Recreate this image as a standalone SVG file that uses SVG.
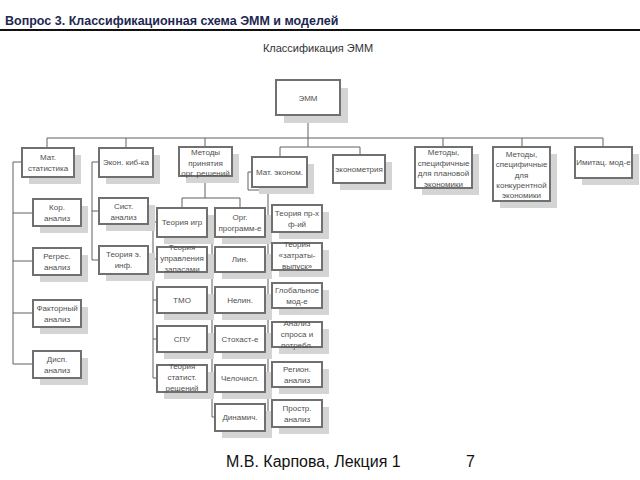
<svg xmlns="http://www.w3.org/2000/svg" width="640" height="480" viewBox="0 0 640 480">
<style>
.sh{fill:#d4d4d4}
.bx{fill:#fff;stroke:#707070;stroke-width:2}
.t{font-family:"Liberation Sans",Arial,sans-serif;font-size:8px;fill:#505050;text-anchor:middle}
.c{fill:none;stroke:#606060;stroke-width:1}
</style>
<rect width="640" height="480" fill="#fff"/>
<text x="5" y="25" font-family="Liberation Sans, Arial, sans-serif" font-size="12.5" font-weight="bold" fill="#1c2850">Вопрос 3. Классификационная схема ЭММ и моделей</text>
<line x1="0" y1="30" x2="640" y2="30" stroke="#111" stroke-width="2"/>
<text x="318" y="52" font-family="Liberation Sans, Arial, sans-serif" font-size="11" fill="#333" text-anchor="middle">Классификация ЭММ</text>

<g id="connectors" class="c">
<path d="M308 115V147M47 138H603M47 138V148M126 138V148M205 138V147M443 138V147M522 138V147M603 138V147"/>
<path d="M280 147H360M280 147V157M360 147V155"/>
<path d="M22 162H13V364M13 213H33M13 261H33M13 313H33M13 364H33"/>
<path d="M99 162H92V260M92 211H99M92 260H99"/>
<path d="M205 176V198M182 208V198H240V208"/>
<path d="M157 222H153V378M153 259H157M153 300H157M153 339H157M153 378H157"/>
<path d="M215 232H212V417M212 259H215M212 300H215M212 339H215M212 378H215M212 417H215"/>
<path d="M252 172H248V190H268V413M268 218H272M268 256H272M268 295H272M268 334H272M268 374H272M268 413H272"/>
</g>

<g id="emm"><rect class="sh" x="284" y="88" width="64" height="35"/><rect class="bx" x="276" y="80" width="64" height="35"/><text class="t" x="308" y="101">ЭММ</text></g>

<g id="matstat"><rect class="sh" x="29" y="155" width="52" height="29"/><rect class="bx" x="22" y="148" width="52" height="29"/><text class="t" x="48" y="160">Мат.</text><text class="t" x="48" y="171">статистика</text></g>
<g id="ekonkib"><rect class="sh" x="106" y="155" width="54" height="29"/><rect class="bx" x="99" y="148" width="54" height="29"/><text class="t" x="126" y="165">Экон. киб-ка</text></g>
<g id="metody"><rect class="sh" x="186" y="154" width="53" height="29"/><rect class="bx" x="179" y="147" width="53" height="29"/><text class="t" x="205.5" y="155">Методы</text><text class="t" x="205.5" y="166">принятия</text><text class="t" x="205.5" y="176">орг. решений</text></g>
<g id="matekon"><rect class="sh" x="259" y="164" width="55" height="30"/><rect class="bx" x="252" y="157" width="55" height="30"/><text class="t" x="279.5" y="175">Мат. эконом.</text></g>
<g id="ekonometr"><rect class="sh" x="340" y="162" width="52" height="28"/><rect class="bx" x="333" y="155" width="52" height="28"/><text class="t" x="359" y="172">эконометрия</text></g>
<g id="plan"><rect class="sh" x="422" y="154" width="57" height="41"/><rect class="bx" x="415" y="147" width="57" height="41"/><text class="t" x="443.5" y="155">Методы,</text><text class="t" x="443.5" y="166">специфичные</text><text class="t" x="443.5" y="176">для плановой</text><text class="t" x="443.5" y="187">экономики</text></g>
<g id="konk"><rect class="sh" x="500" y="154" width="57" height="54"/><rect class="bx" x="493" y="147" width="57" height="54"/><text class="t" x="521.5" y="157">Методы,</text><text class="t" x="521.5" y="167">специфичные</text><text class="t" x="521.5" y="178">для</text><text class="t" x="521.5" y="188">конкурентной</text><text class="t" x="521.5" y="198">экономики</text></g>
<g id="imitac"><rect class="sh" x="582" y="154" width="57" height="31"/><rect class="bx" x="575" y="147" width="57" height="31"/><text class="t" x="603.5" y="165">Имитац. мод-е</text></g>

<g id="kor"><rect class="sh" x="40" y="206" width="48" height="27"/><rect class="bx" x="33" y="199" width="48" height="27"/><text class="t" x="57" y="210">Кор.</text><text class="t" x="57" y="221">анализ</text></g>
<g id="regr"><rect class="sh" x="40" y="255" width="48" height="27"/><rect class="bx" x="33" y="248" width="48" height="27"/><text class="t" x="57" y="259">Регрес.</text><text class="t" x="57" y="270">анализ</text></g>
<g id="fakt"><rect class="sh" x="40" y="307" width="48" height="27"/><rect class="bx" x="33" y="300" width="48" height="27"/><text class="t" x="57" y="311">Факторный</text><text class="t" x="57" y="322">анализ</text></g>
<g id="disp"><rect class="sh" x="40" y="358" width="48" height="27"/><rect class="bx" x="33" y="351" width="48" height="27"/><text class="t" x="57" y="362">Дисп.</text><text class="t" x="57" y="373">анализ</text></g>

<g id="sist"><rect class="sh" x="106" y="205" width="49" height="26"/><rect class="bx" x="99" y="198" width="49" height="26"/><text class="t" x="123.5" y="209">Сист.</text><text class="t" x="123.5" y="220">анализ</text></g>
<g id="teorei"><rect class="sh" x="106" y="253" width="49" height="28"/><rect class="bx" x="99" y="246" width="49" height="28"/><text class="t" x="123.5" y="257">Теория э.</text><text class="t" x="123.5" y="268">инф.</text></g>

<g id="teorigr"><rect class="sh" x="164" y="215" width="50" height="29"/><rect class="bx" x="157" y="208" width="50" height="29"/><text class="t" x="182" y="225">Теория игр</text></g>
<g id="orgprog"><rect class="sh" x="222" y="215" width="50" height="29"/><rect class="bx" x="215" y="208" width="50" height="29"/><text class="t" x="240" y="220">Орг.</text><text class="t" x="240" y="231">программ-е</text></g>
<g id="tuz"><rect class="sh" x="164" y="254" width="50" height="25"/><rect class="bx" x="157" y="247" width="50" height="25"/><text class="t" x="182" y="250">Теория</text><text class="t" x="182" y="261">управления</text><text class="t" x="182" y="272">запасами</text></g>
<g id="tmo"><rect class="sh" x="164" y="294" width="50" height="26"/><rect class="bx" x="157" y="287" width="50" height="26"/><text class="t" x="182" y="303">ТМО</text></g>
<g id="spu"><rect class="sh" x="164" y="333" width="50" height="26"/><rect class="bx" x="157" y="326" width="50" height="26"/><text class="t" x="182" y="342">СПУ</text></g>
<g id="tsr"><rect class="sh" x="164" y="372" width="50" height="27"/><rect class="bx" x="157" y="365" width="50" height="27"/><text class="t" x="182" y="369">Теория</text><text class="t" x="182" y="380">статист.</text><text class="t" x="182" y="391">решений</text></g>

<g id="lin"><rect class="sh" x="222" y="254" width="50" height="25"/><rect class="bx" x="215" y="247" width="50" height="25"/><text class="t" x="240" y="262">Лин.</text></g>
<g id="nelin"><rect class="sh" x="222" y="294" width="50" height="26"/><rect class="bx" x="215" y="287" width="50" height="26"/><text class="t" x="240" y="303">Нелин.</text></g>
<g id="stoh"><rect class="sh" x="222" y="333" width="50" height="26"/><rect class="bx" x="215" y="326" width="50" height="26"/><text class="t" x="240" y="342">Стохаст-е</text></g>
<g id="cel"><rect class="sh" x="222" y="372" width="50" height="27"/><rect class="bx" x="215" y="365" width="50" height="27"/><text class="t" x="240" y="381">Челочисл.</text></g>
<g id="din"><rect class="sh" x="222" y="411" width="50" height="27"/><rect class="bx" x="215" y="404" width="50" height="27"/><text class="t" x="240" y="420">Динамич.</text></g>

<g id="tpf"><rect class="sh" x="279" y="212" width="50" height="27"/><rect class="bx" x="272" y="205" width="50" height="27"/><text class="t" x="297" y="216">Теория пр-х</text><text class="t" x="297" y="227">ф-ий</text></g>
<g id="zv"><rect class="sh" x="279" y="250" width="50" height="27"/><rect class="bx" x="272" y="243" width="50" height="27"/><text class="t" x="297" y="247">Теория</text><text class="t" x="297" y="258">«затраты-</text><text class="t" x="297" y="269">выпуск»</text></g>
<g id="glob"><rect class="sh" x="279" y="290" width="50" height="25"/><rect class="bx" x="272" y="283" width="50" height="25"/><text class="t" x="297" y="293">Глобальное</text><text class="t" x="297" y="304">мод-е</text></g>
<g id="spros"><rect class="sh" x="279" y="329" width="50" height="25"/><rect class="bx" x="272" y="322" width="50" height="25"/><text class="t" x="297" y="326">Анализ</text><text class="t" x="297" y="337">спроса и</text><text class="t" x="297" y="348">потребл.</text></g>
<g id="region"><rect class="sh" x="279" y="369" width="50" height="25"/><rect class="bx" x="272" y="362" width="50" height="25"/><text class="t" x="297" y="372">Регион.</text><text class="t" x="297" y="383">анализ</text></g>
<g id="prostr"><rect class="sh" x="279" y="407" width="50" height="27"/><rect class="bx" x="272" y="400" width="50" height="27"/><text class="t" x="297" y="411">Простр.</text><text class="t" x="297" y="422">анализ</text></g>

<text x="226" y="467" font-family="Liberation Sans, Arial, sans-serif" font-size="16" fill="#111">М.В. Карпова, Лекция 1</text>
<text x="466" y="467" font-family="Liberation Sans, Arial, sans-serif" font-size="16" fill="#111">7</text>
</svg>
